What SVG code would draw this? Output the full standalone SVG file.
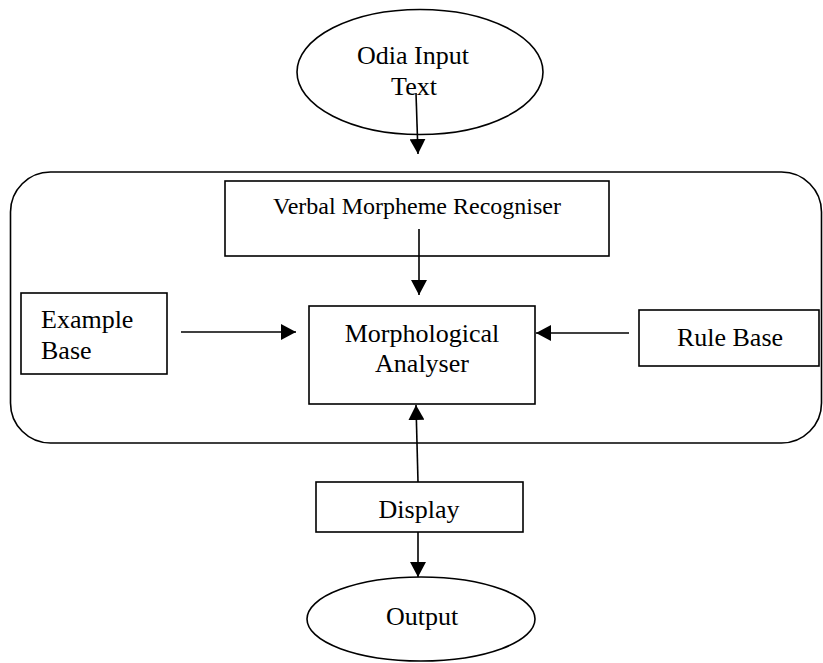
<svg xmlns="http://www.w3.org/2000/svg" width="823" height="663" viewBox="0 0 823 663">
<style>
.shape{fill:#fff;stroke:#000;stroke-width:1.6}
.t{font-family:"Liberation Serif","Times New Roman",serif;font-size:26px;fill:#000;text-anchor:middle}
.s{font-size:24px}
.c{stroke:#000;stroke-width:1.6;fill:none;marker-end:url(#ah)}
</style>
<defs>
<marker id="ah" markerUnits="userSpaceOnUse" markerWidth="16" markerHeight="16" refX="15" refY="8" orient="auto">
<path d="M0,0 L15,8 L0,16 z" fill="#000"/>
</marker>
</defs>
<rect x="10.5" y="172" width="811" height="271" rx="40" ry="40" fill="none" stroke="#000" stroke-width="1.6"/>
<g id="input">
<ellipse class="shape" cx="420" cy="72" rx="123" ry="62.5"/>
<text class="t" x="413" y="64">Odia Input</text>
<text class="t" x="414" y="95">Text</text>
</g>
<g id="verbal">
<rect class="shape" x="225" y="181" width="384" height="75"/>
<text class="t s" x="417" y="214">Verbal Morpheme Recogniser</text>
</g>
<g id="example">
<rect class="shape" x="21" y="293" width="146" height="81"/>
<text class="t" x="41" y="328" style="text-anchor:start">Example</text>
<text class="t" x="41" y="359" style="text-anchor:start">Base</text>
</g>
<g id="morph">
<rect class="shape" x="309" y="306" width="226" height="98"/>
<text class="t" x="422" y="342">Morphological</text>
<text class="t" x="422" y="372">Analyser</text>
</g>
<g id="rule">
<rect class="shape" x="639" y="310" width="180" height="56"/>
<text class="t" x="730" y="346">Rule Base</text>
</g>
<g id="display">
<rect class="shape" x="316" y="482" width="207" height="50"/>
<text class="t" x="419" y="518">Display</text>
</g>
<g id="output">
<ellipse class="shape" cx="421" cy="619" rx="114" ry="42"/>
<text class="t" x="422" y="625">Output</text>
</g>
<g id="connectors">
<line class="c" x1="416" y1="93" x2="418" y2="154"/>
<line class="c" x1="419" y1="229" x2="419" y2="295"/>
<line class="c" x1="181" y1="332" x2="296" y2="332"/>
<line class="c" x1="629" y1="333" x2="536" y2="333"/>
<line class="c" x1="418" y1="482" x2="416" y2="405"/>
<line class="c" x1="418" y1="532" x2="418" y2="577"/>
</g>
</svg>
